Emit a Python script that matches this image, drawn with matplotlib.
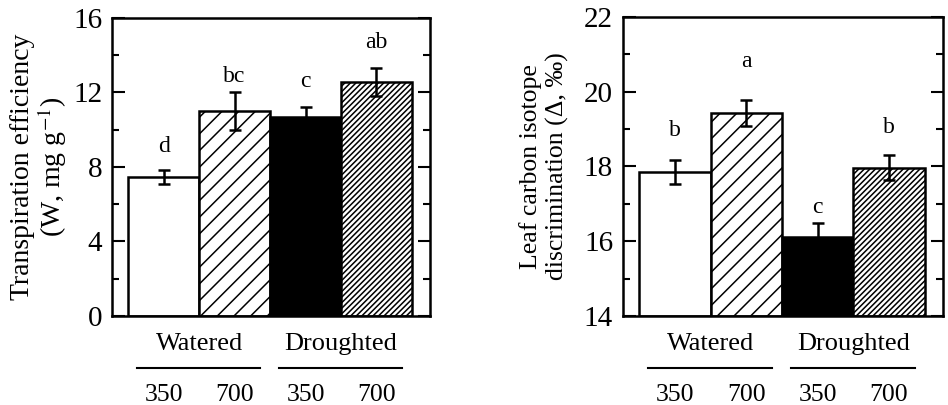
import matplotlib
matplotlib.use("Agg")
import matplotlib.pyplot as plt
from matplotlib.ticker import MultipleLocator
import matplotlib.transforms as mtransforms

plt.rcParams['font.family'] = ['Liberation Serif', 'DejaVu Serif']
plt.rcParams['mathtext.fontset'] = 'stix'
plt.rcParams['hatch.linewidth'] = 1.1

# data
co2 = ["350", "700", "350", "700"]
groups = ["Watered", "Droughted"]
te_mean = [7.45, 11.0, 10.65, 12.58]
te_err = [0.38, 1.0, 0.55, 0.75]
te_letters = ["d", "bc", "c", "ab"]
te_letter_y = [9.1, 12.85, 12.6, 14.7]
d13_mean = [17.85, 19.43, 16.11, 17.97]
d13_err = [0.32, 0.34, 0.37, 0.33]
d13_letters = ["b", "a", "c", "b"]
d13_letter_y = [18.97, 20.8, 16.9, 19.05]

faces = ["white", "white", "black", "white"]
hatches = [None, "//", None, "//////"]
x = range(len(co2))

fig = plt.figure(figsize=(9.48, 4.05), dpi=100)
ax1 = fig.add_axes([0.118, 0.22, 0.336, 0.736])
ax2 = fig.add_axes([0.657, 0.22, 0.338, 0.738])


def draw(ax, means, errs, letters, letter_y, ylim, major, minor, ylabel, labsize, pad, lsp):
    for i in x:
        ax.bar(i, means[i] - ylim[0], bottom=ylim[0], width=1.0, color=faces[i],
               edgecolor="black", linewidth=1.8, hatch=hatches[i], zorder=2)
    ax.errorbar(list(x), means, yerr=errs, fmt="none", ecolor="black",
                elinewidth=1.8, capsize=4.5, capthick=1.8, zorder=3)
    for i in x:
        ax.text(i, letter_y[i], letters[i], ha="center", va="center", fontsize=17)
    ax.set_xlim(-0.73, 3.76)
    ax.set_ylim(*ylim)
    ax.yaxis.set_major_locator(MultipleLocator(major))
    ax.yaxis.set_minor_locator(MultipleLocator(minor))
    ax.tick_params(axis="y", which="both", direction="in", left=True, right=True,
                   width=1.5, labelsize=21, pad=7)
    ax.tick_params(axis="y", which="major", length=9)
    ax.tick_params(axis="y", which="minor", length=5)
    ax.tick_params(axis="x", bottom=False, labelbottom=False)
    for s in ax.spines.values():
        s.set_linewidth(1.8)
    ax.set_ylabel(ylabel, fontsize=labsize, labelpad=pad, linespacing=lsp)

    trans = mtransforms.blended_transform_factory(ax.transData, ax.transAxes)
    for g, name in enumerate(groups):
        c = 2 * g + 0.5
        ax.text(c, -0.095, name, transform=trans, ha="center", va="center", fontsize=19)
        ax.plot([c - 0.88, c + 0.86], [-0.175, -0.175], transform=trans,
                color="black", linewidth=1.5, clip_on=False)
    for i in x:
        ax.text(i, -0.265, co2[i], transform=trans, ha="center", va="center", fontsize=18.5)


draw(ax1, te_mean, te_err, te_letters, te_letter_y, (0, 16), 4, 2,
     "Transpiration efficiency\n(W, mg g$^{-1}$)", 20, 3, 1.0)
draw(ax2, d13_mean, d13_err, d13_letters, d13_letter_y, (14, 22), 2, 1,
     "Leaf carbon isotope\ndiscrimination (Δ, ‰)", 18.5, 11, 1.2)

fig.savefig("out.png", dpi=100)
